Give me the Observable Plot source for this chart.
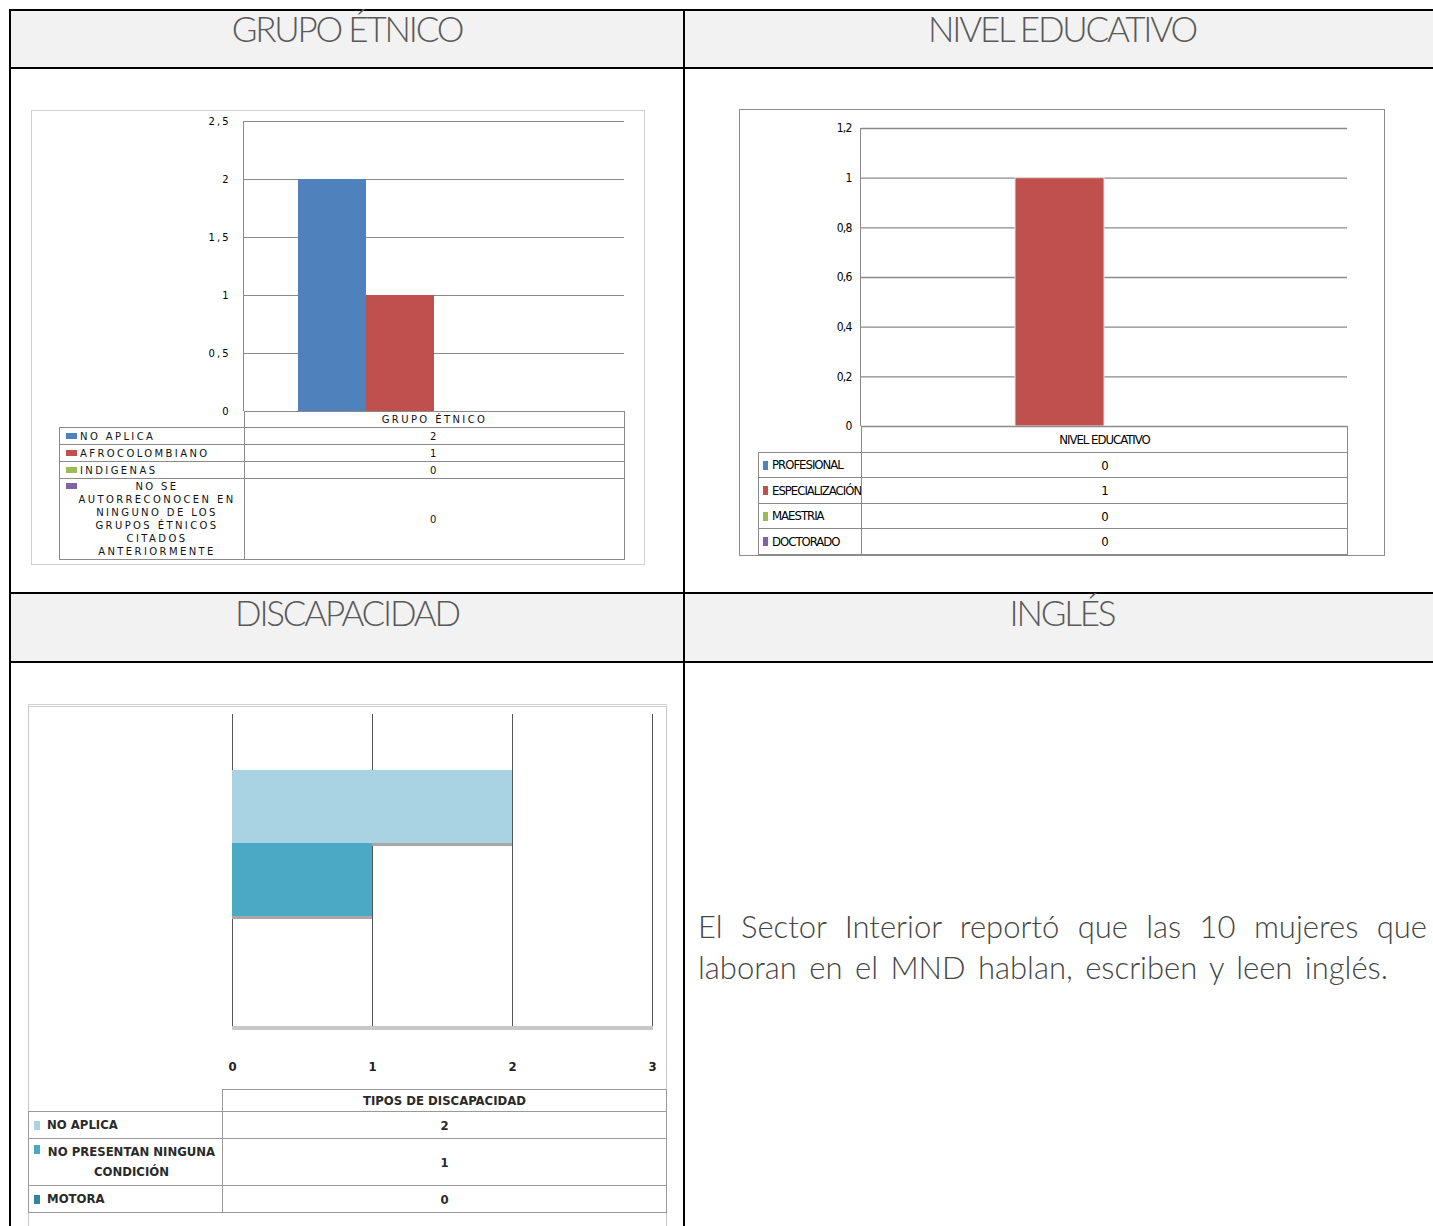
<!DOCTYPE html>
<html><head><meta charset="utf-8">
<script src="https://cdn.jsdelivr.net/npm/d3@7"></script>
<script src="https://cdn.jsdelivr.net/npm/@observablehq/plot@0.6"></script>
<style>
html,body{margin:0;padding:0}
body{width:1433px;height:1226px;overflow:hidden;background:#fff;position:relative;font-family:Lato,sans-serif}
.abs{position:absolute;box-sizing:border-box}
.hdrbg{position:absolute;background:#f2f2f2}
.hdr{position:absolute;color:#595959;font-family:Lato,sans-serif;font-weight:300;font-size:35px;text-align:center;white-space:nowrap;letter-spacing:-2.2px}
.bl{position:absolute;background:#000}
.cell{position:absolute;box-sizing:border-box;display:flex;align-items:center;justify-content:center;text-align:center;white-space:pre-line}
.sw{position:absolute;display:inline-block}
#ingles{position:absolute;left:698px;top:906px;width:729px;font-family:Lato,sans-serif;font-weight:300;font-size:31px;line-height:41px;color:#454545;text-align:justify;text-align-last:left;letter-spacing:0px;word-spacing:4px}
</style></head><body>
<script>
// ---------- DATA ----------
const headers = ["GRUPO ÉTNICO", "NIVEL EDUCATIVO", "DISCAPACIDAD", "INGLÉS"];

const etnicoSeries = ["NO APLICA", "AFROCOLOMBIANO", "INDIGENAS", "NO SE AUTORRECONOCEN EN NINGUNO DE LOS GRUPOS ÉTNICOS CITADOS ANTERIORMENTE"];
const etnicoLabels = ["NO APLICA", "AFROCOLOMBIANO", "INDIGENAS", "NO SE\nAUTORRECONOCEN  EN\nNINGUNO  DE LOS\nGRUPOS ÉTNICOS\nCITADOS\nANTERIORMENTE"];
const etnicoValues = [2, 1, 0, 0];
const etnicoTicks = [0, 0.5, 1, 1.5, 2, 2.5];
const etnicoCategory = "GRUPO ÉTNICO";

const eduSeries = ["PROFESIONAL", "ESPECIALIZACIÓN", "MAESTRIA", "DOCTORADO"];
const eduValues = [0, 1, 0, 0];
const eduTicks = [0, 0.2, 0.4, 0.6, 0.8, 1, 1.2];
const eduCategory = "NIVEL EDUCATIVO";

const discSeries = ["NO APLICA", "NO PRESENTAN  NINGUNA CONDICIÓN", "MOTORA"];
const discLabels = ["NO APLICA", "NO PRESENTAN  NINGUNA\nCONDICIÓN", "MOTORA"];
const discValues = [2, 1, 0];
const discTicks = [0, 1, 2, 3];
const discCategory = "TIPOS DE DISCAPACIDAD";

const inglesText = "El Sector Interior reportó que las 10 mujeres que laboran en el MND hablan, escriben y leen  inglés.";

const officeColors = ["#4f81bd", "#c0504d", "#9bbb59", "#8064a2"];
const discColors = ["#a9d3e3", "#4aaac6", "#31859c"];

// ---------- helpers ----------
const comma = d => String(d).replace(".", ",");
function el(tag, cls, css, text) {
  const e = document.createElement(tag);
  if (cls) e.className = cls;
  Object.assign(e.style, css || {});
  if (text != null) e.textContent = text;
  document.body.appendChild(e);
  return e;
}
function px(v){return v + "px";}

// ---------- outer table ----------
el("div", "hdrbg", {left:px(10), top:px(10), width:px(1423), height:px(58)});
el("div", "hdrbg", {left:px(10), top:px(593), width:px(1423), height:px(69)});
el("div", "bl", {left:px(10), top:px(9), width:px(1423), height:px(2)});
el("div", "bl", {left:px(10), top:px(67), width:px(1423), height:px(2)});
el("div", "bl", {left:px(10), top:px(592), width:px(1423), height:px(2)});
el("div", "bl", {left:px(10), top:px(661), width:px(1423), height:px(2)});
el("div", "bl", {left:px(9), top:px(9), width:px(2), height:px(1217)});
el("div", "bl", {left:px(683), top:px(9), width:px(2), height:px(1217)});

el("div", "hdr", {left:px(10), width:px(674), top:px(7)}, headers[0]);
el("div", "hdr", {left:px(684), width:px(756), top:px(7)}, headers[1]);
el("div", "hdr", {left:px(10), width:px(674), top:px(591)}, headers[2]);
el("div", "hdr", {left:px(684), width:px(756), top:px(591)}, headers[3]);

// ---------- data table builder ----------
function dataTable(o) {
  const bc = o.border;
  const hx = o.left + o.labelW;
  el("div", "cell", {left:px(hx), top:px(o.top), width:px(o.valueW+1), height:px(o.headerH+1),
    border:`1px solid ${bc}`, font:o.font, color:o.color, letterSpacing:o.ls}, o.header);
  let y = o.top + o.headerH;
  o.labels.forEach((lab, i) => {
    const h = o.rowH[i];
    const multi = lab.includes("\n");
    const c = el("div", "cell", {left:px(o.left), top:px(y), width:px(o.labelW+1), height:px(h+1),
      border:`1px solid ${bc}`, font:o.font, color:o.color, letterSpacing:o.ls,
      justifyContent: multi ? "center" : "flex-start", paddingLeft: multi ? px(o.padMulti) : px(o.pad),
      lineHeight:o.lh});
    c.textContent = lab;
    const sw = document.createElement("span");
    sw.className = "sw";
    Object.assign(sw.style, {left:px(o.swX), top: multi ? px(o.swTopMulti) : "50%", marginTop: multi ? "0" : px(-o.swH/2),
      width:px(o.swW), height:px(o.swH), background:o.colors[i]});
    c.appendChild(sw);
    el("div", "cell", {left:px(hx), top:px(y), width:px(o.valueW+1), height:px(h+1),
      border:`1px solid ${bc}`, font:o.font, color:o.color, letterSpacing:o.ls}, String(o.values[i]));
    y += h;
  });
}

// ---------- Chart 1: GRUPO ÉTNICO ----------
el("div", "abs", {left:px(31), top:px(110), width:px(614), height:px(455), border:"1px solid #d0d0d0"});
{
  const data = etnicoSeries.map((s, i) => ({serie: s, value: etnicoValues[i]}));
  const chart = Plot.plot({
    width: 613, height: 454,
    marginLeft: 213, marginRight: 20, marginTop: 11, marginBottom: 153,
    style: {fontFamily: "'DejaVu Sans', sans-serif", fontSize: "10px", color: "#000", background: "transparent", letterSpacing: "2px"},
    x: {domain: etnicoSeries, paddingInner: 0, paddingOuter: 0.754, axis: null},
    y: {domain: [0, 2.5], ticks: etnicoTicks, tickFormat: comma, tickSize: 0, tickPadding: 14, label: null},
    color: {domain: etnicoSeries, range: officeColors},
    marks: [
      Plot.ruleY(etnicoTicks, {stroke: "#8a8a8a", strokeWidth: 1}),
      Plot.barY(data, {x: "serie", y: "value", fill: "serie"})
    ]
  });
  Object.assign(chart.style, {position: "absolute", left: "31px", top: "110px"});
  document.body.appendChild(chart);
}
el("div", "abs", {left:px(243), top:px(121), width:px(1), height:px(290), background:"#8a8a8a"});
dataTable({left:59, top:411, labelW:185, valueW:380, headerH:16, rowH:[17,17,17,81],
  header: etnicoCategory, labels: etnicoLabels, values: etnicoValues, colors: officeColors,
  border:"#8a8a8a", font:"10px 'DejaVu Sans', sans-serif", color:"#111", ls:"2.4px", lh:"13px",
  pad:20, padMulti:10, swX:6, swTopMulti:4, swW:11, swH:6});

// ---------- Chart 2: NIVEL EDUCATIVO ----------
el("div", "abs", {left:px(739), top:px(109), width:px(646), height:px(447), border:"1px solid #8c8c8c"});
{
  const data = eduSeries.map((s, i) => ({serie: s, value: eduValues[i]}));
  const chart = Plot.plot({
    width: 645, height: 446,
    marginLeft: 122, marginRight: 37, marginTop: 19, marginBottom: 129,
    style: {fontFamily: "'Liberation Sans Narrow', 'DejaVu Sans Condensed', 'Roboto Condensed', sans-serif", fontSize: "12px", color: "#000", background: "transparent", letterSpacing: "-0.8px"},
    x: {domain: eduSeries, paddingInner: 0, paddingOuter: 0.73, axis: null},
    y: {domain: [0, 1.2], ticks: eduTicks, tickFormat: comma, tickSize: 0, tickPadding: 10, label: null},
    color: {domain: eduSeries, range: officeColors},
    marks: [
      Plot.ruleY(eduTicks, {stroke: "#8a8a8a", strokeWidth: 1.3}),
      Plot.barY(data, {x: "serie", y: "value", fill: "serie", stroke: "#e3e3e3", strokeWidth: 1})
    ]
  });
  Object.assign(chart.style, {position: "absolute", left: "739px", top: "109px"});
  document.body.appendChild(chart);
}
el("div", "abs", {left:px(860), top:px(128), width:px(1), height:px(298), background:"#8a8a8a"});
dataTable({left:758, top:426, labelW:103, valueW:486, headerH:26, rowH:[25,26,25,26],
  header: eduCategory, labels: eduSeries, values: eduValues, colors: officeColors,
  border:"#8a8a8a", font:"13px 'Liberation Sans Narrow', 'DejaVu Sans Condensed', sans-serif", color:"#000", ls:"-1px", lh:"14px",
  pad:13, padMulti:13, swX:4, swTopMulti:4, swW:5, swH:9});

// ---------- Chart 3: DISCAPACIDAD ----------
el("div", "abs", {left:px(28), top:px(704), width:px(639), height:px(540), border:"1px solid #c8c8c8", borderTop:"3px double #d0d0d0"});
{
  const data = discSeries.map((s, i) => ({serie: s, value: discValues[i]}));
  const chart = Plot.plot({
    width: 638, height: 385,
    marginLeft: 204, marginRight: 14, marginTop: 10, marginBottom: 61,
    style: {fontFamily: "'Liberation Sans Narrow', 'DejaVu Sans Condensed', sans-serif", fontSize: "13px", fontWeight: "bold", color: "#222", background: "transparent"},
    x: {domain: [0, 3], ticks: discTicks, tickFormat: d => String(d), tickSize: 0, tickPadding: 33, label: null},
    y: {domain: discSeries, range: [66, 285], padding: 0, axis: null},
    color: {domain: discSeries, range: discColors},
    marks: [
      Plot.ruleX(discTicks, {stroke: "#555", strokeWidth: 1}),
      Plot.barX(data, {x: "value", y: "serie", fill: "#a8a8a8", dy: 3}),
      Plot.barX(data, {x: "value", y: "serie", fill: "serie"})
    ]
  });
  Object.assign(chart.style, {position: "absolute", left: "28px", top: "704px"});
  document.body.appendChild(chart);
}
el("div", "abs", {left:px(232), top:px(1026), width:px(421), height:px(4), background:"#c8c8c8"});
dataTable({left:28, top:1089, labelW:194, valueW:444, headerH:22, rowH:[27,47,27],
  header: discCategory, labels: discLabels, values: discValues, colors: discColors,
  border:"#999", font:"bold 13px 'Liberation Sans Narrow', 'DejaVu Sans Condensed', sans-serif", color:"#2a2a2a", ls:"0px", lh:"20px",
  pad:18, padMulti:12, swX:5, swTopMulti:6, swW:6, swH:9});

// ---------- INGLÉS ----------
el("div", "", {}, inglesText).id = "ingles";
</script>
</body></html>
